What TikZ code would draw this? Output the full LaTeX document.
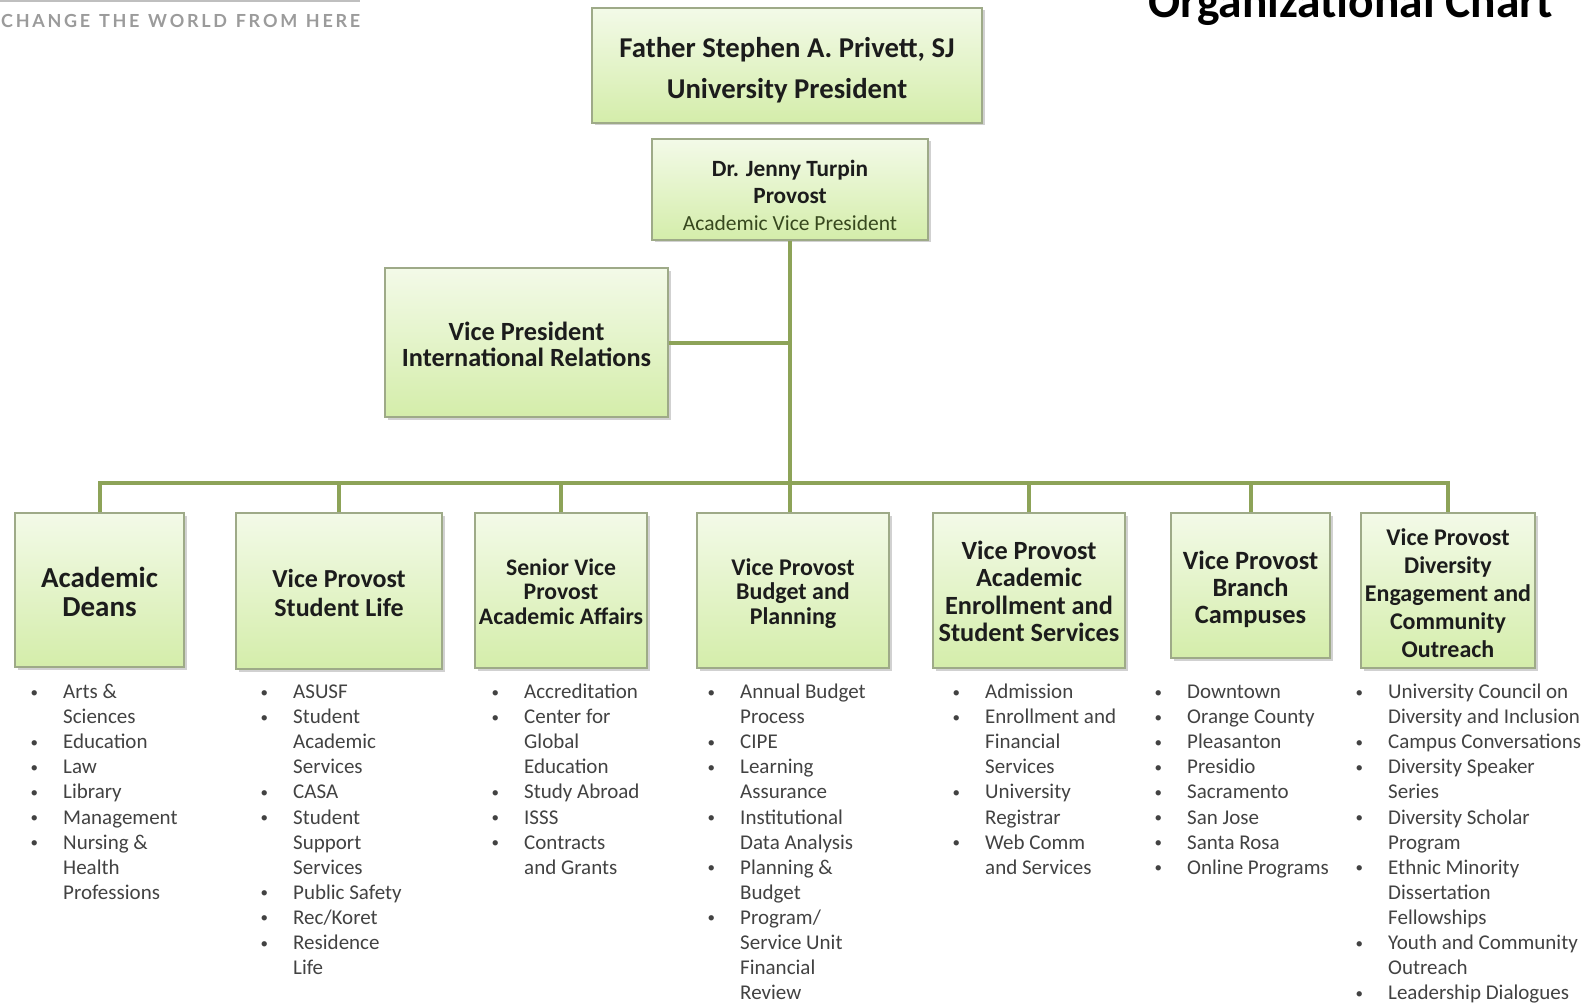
\documentclass[tikz,border=0pt]{standalone}
\usepackage{fontspec}
\setmainfont{Carlito}
\newfontfamily\tagfont{Lato}
\usetikzlibrary{shadows}
\definecolor{conncol}{RGB}{141,163,88}
\definecolor{bordcol}{RGB}{158,170,136}
\definecolor{topcol}{RGB}{243,250,232}
\definecolor{botcol}{RGB}{212,237,170}
\definecolor{boxtext}{RGB}{28,28,28}
\definecolor{listtext}{RGB}{66,66,66}
\definecolor{subtext}{RGB}{55,72,30}
\definecolor{tagcol}{RGB}{155,155,155}
\newcommand\bfs[2]{\fontsize{#1}{#2}\selectfont\bfseries}
\newcommand\bl{\leavevmode\llap{\raisebox{1.5pt}{\fontsize{15}{15}\selectfont\textbullet}\hskip 25pt}}
\newcommand\lst[1]{\parbox[t]{300pt}{\raggedright\fontsize{21}{25.1}\selectfont #1}}
\tikzset{
  orgbox/.style={draw=bordcol, line width=1.5pt, top color=topcol, bottom color=botcol,
    inner sep=0pt,
    drop shadow={shadow xshift=2.5pt, shadow yshift=-2.5pt, opacity=0.3, fill=black!60}},
  boxlabel/.style={align=center, inner sep=0pt, text=boxtext},
  conn/.style={draw=conncol, line width=4pt},
  listnode/.style={anchor=base west, inner sep=0pt, text=listtext}
}
\begin{document}
\begin{tikzpicture}[x=1pt,y=-1pt]
\useasboundingbox (0,0) rectangle (1596,1003);

% header
\draw[black!25, line width=1.5pt] (0,1) -- (360,1);
\node[anchor=base west, inner sep=0pt, text=tagcol] (tag) at (1,28)
  {\tagfont\bfseries\fontsize{18}{20}\selectfont\hbox to 359pt{C\hfil H\hfil A\hfil N\hfil G\hfil E\hskip 6pt plus 1fil T\hfil H\hfil E\hskip 6pt plus 1fil W\hfil O\hfil R\hfil L\hfil D\hskip 6pt plus 1fil F\hfil R\hfil O\hfil M\hskip 6pt plus 1fil H\hfil E\hfil R\hfil E}};
\node[anchor=base east, inner sep=0pt, font=\bfs{47.5}{50}] (title) at (1553,18) {Organizational Chart};

% top boxes
\node[orgbox, minimum width=390pt, minimum height=115pt] (pres) at (787,65.5) {};
\node[boxlabel, font=\bfs{28.7}{41.5}] (presT) at ([yshift=-4.5pt]pres.center)
  {Father Stephen A. Privett, SJ\\University President};
\node[orgbox, minimum width=276pt, minimum height=101pt] (prov) at (790,189.5) {};
\node[boxlabel, font=\bfs{23.3}{27}] (provT) at ([yshift=-6pt]prov.center)
  {Dr. Jenny Turpin\\Provost\\{\mdseries\fontsize{21.5}{27}\selectfont\color{subtext}Academic Vice President}};
\node[orgbox, minimum width=283pt, minimum height=149pt] (intl) at (526.5,342.5) {};
\node[boxlabel, font=\bfs{26.3}{25.5}] (intlT) at ([yshift=-2pt]intl.center)
  {Vice President\\International Relations};

% second row
\node[orgbox, minimum width=169pt, minimum height=154pt] (deans) at (99.5,590) {};
\node[boxlabel, font=\bfs{29}{28.5}] (deansT) at ([yshift=-2pt]deans.center) {Academic\\Deans};
\node[orgbox, minimum width=206pt, minimum height=156pt] (slife) at (339,591) {};
\node[boxlabel, font=\bfs{26}{29.5}] (slifeT) at ([yshift=-2pt]slife.center) {Vice Provost\\Student Life};
\node[orgbox, minimum width=172pt, minimum height=155pt] (senior) at (561,590.5) {};
\node[boxlabel, font=\bfs{23.7}{24.4}] (seniorT) at ([yshift=-1pt]senior.center) {Senior Vice\\Provost\\Academic Affairs};
\node[orgbox, minimum width=192pt, minimum height=155pt] (budget) at (793,590.5) {};
\node[boxlabel, font=\bfs{24}{24.4}] (budgetT) at ([yshift=-3pt]budget.center) {Vice Provost\\Budget and\\Planning};
\node[orgbox, minimum width=192pt, minimum height=155pt] (enroll) at (1029,590.5) {};
\node[boxlabel, font=\bfs{26.3}{27.5}] (enrollT) at ([yshift=-1pt]enroll.center) {Vice Provost\\Academic\\Enrollment and\\Student Services};
\node[orgbox, minimum width=159pt, minimum height=145pt] (branch) at (1250.5,585.5) {};
\node[boxlabel, font=\bfs{26.4}{27}] (branchT) at ([yshift=-3.5pt]branch.center) {Vice Provost\\Branch\\Campuses};
\node[orgbox, minimum width=174pt, minimum height=155pt] (divers) at (1448,590.5) {};
\node[boxlabel, font=\bfs{24}{28}] (diversT) at ([yshift=-3pt]divers.center) {Vice Provost\\Diversity\\Engagement and\\Community\\Outreach};

% connectors
\coordinate (busy) at (0,483);
\draw[conn] (prov.south) -- (prov.south |- budget.north);
\draw[conn] (intl.east) -- (intl.east -| prov.south);
\draw[conn] (deans.north) |- (busy -| divers.north) -- (divers.north);
\draw[conn] (slife.north) -- (slife.north |- busy);
\draw[conn] (senior.north) -- (senior.north |- busy);
\draw[conn] (enroll.north) -- (enroll.north |- busy);
\draw[conn] (branch.north) -- (branch.north |- busy);

% lists
\node[listnode] (L1) at (63,698.5) {\lst{\bl Arts \&\\Sciences\\\bl Education\\\bl Law\\\bl Library\\\bl Management\\\bl Nursing \&\\Health\\Professions}};
\node[listnode] (L2) at (293,698.5) {\lst{\bl ASUSF\\\bl Student\\Academic\\Services\\\bl CASA\\\bl Student\\Support\\Services\\\bl Public Safety\\\bl Rec/Koret\\\bl Residence\\Life}};
\node[listnode] (L3) at (524,698.5) {\lst{\bl Accreditation\\\bl Center for\\Global\\Education\\\bl Study Abroad\\\bl ISSS\\\bl Contracts\\and Grants}};
\node[listnode] (L4) at (740,698.5) {\lst{\bl Annual Budget\\Process\\\bl CIPE\\\bl Learning\\Assurance\\\bl Institutional\\Data Analysis\\\bl Planning \&\\Budget\\\bl Program/\\Service Unit\\Financial\\Review}};
\node[listnode] (L5) at (985,698.5) {\lst{\bl Admission\\\bl Enrollment and\\Financial\\Services\\\bl University\\Registrar\\\bl Web Comm\\and Services}};
\node[listnode] (L6) at (1187,698.5) {\lst{\bl Downtown\\\bl Orange County\\\bl Pleasanton\\\bl Presidio\\\bl Sacramento\\\bl San Jose\\\bl Santa Rosa\\\bl Online Programs}};
\node[listnode] (L7) at (1388,698.5) {\lst{\bl University Council on\\Diversity and Inclusion\\\bl Campus Conversations\\\bl Diversity Speaker\\Series\\\bl Diversity Scholar\\Program\\\bl Ethnic Minority\\Dissertation\\Fellowships\\\bl Youth and Community\\Outreach\\\bl Leadership Dialogues}};
\end{tikzpicture}
\end{document}
